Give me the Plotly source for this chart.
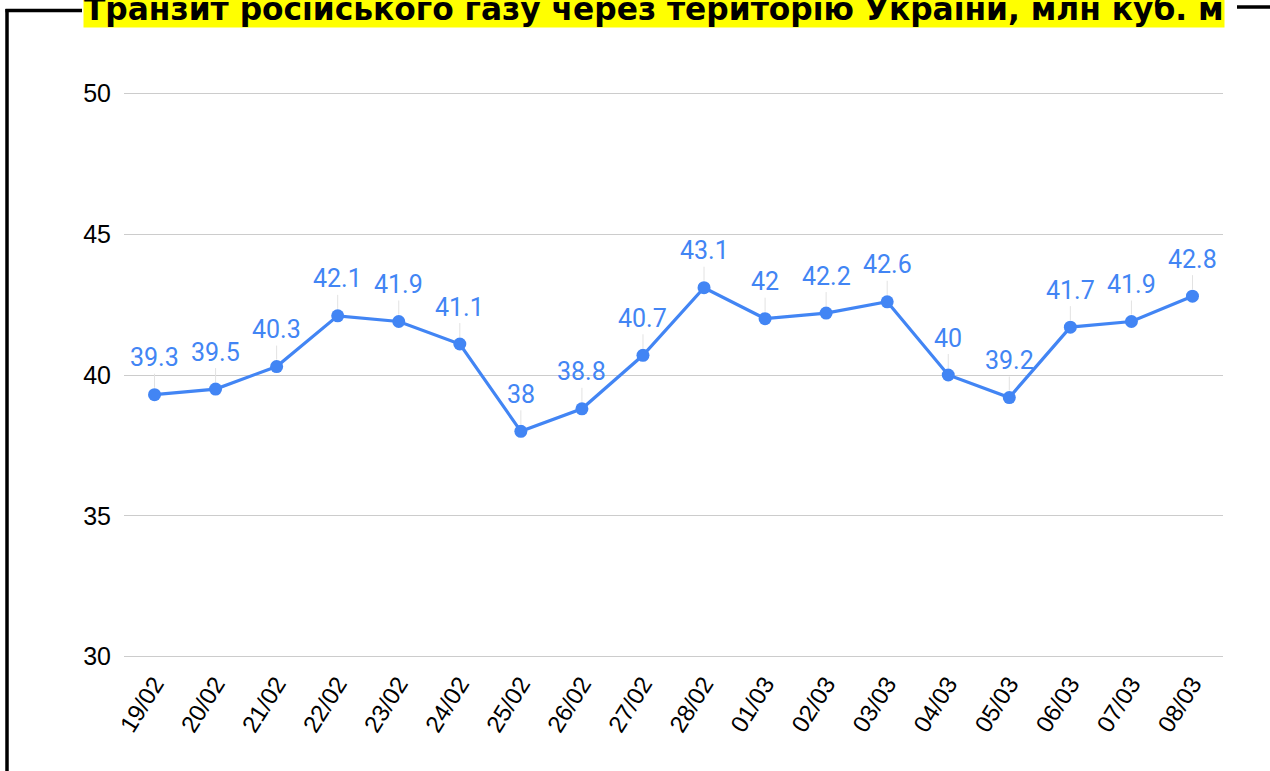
import plotly.graph_objects as go

dates = ["19/02", "20/02", "21/02", "22/02", "23/02", "24/02", "25/02", "26/02", "27/02",
         "28/02", "01/03", "02/03", "03/03", "04/03", "05/03", "06/03", "07/03", "08/03"]
values = [39.3, 39.5, 40.3, 42.1, 41.9, 41.1, 38, 38.8, 40.7,
          43.1, 42, 42.2, 42.6, 40, 39.2, 41.7, 41.9, 42.8]
y_ticks = [30, 35, 40, 45, 50]
title_text = "Транзит російського газу через територію України, млн куб. м"

W, H = 1270, 771
Y_LO, Y_HI = 29.95, 50.05
ML, MR, MT, MB = 124, 47, 92, 113
PW, PH = W - ML - MR, H - MT - MB


def px2x(px):
    return (px - ML) / PW


def py2y(py):
    return (H - MB - py) / PH


BLUE = "#4285F4"

fig = go.Figure()
fig.add_trace(go.Scatter(
    x=dates, y=values, mode="lines+markers",
    line=dict(color=BLUE, width=3.2),
    marker=dict(color=BLUE, size=13),
    hoverinfo="skip", showlegend=False,
))

annotations = []
for d, v in zip(dates, values):
    annotations.append(dict(
        x=d, y=v, xref="x", yref="y", text=f"{v:g}",
        showarrow=True, arrowhead=0, arrowwidth=1, arrowcolor="#e2e2e2",
        ax=0, ay=-37, standoff=7,
        font=dict(family="Roboto", size=25, color=BLUE),
    ))

annotations.append(dict(
    x=px2x(654), y=py2y(28), xref="paper", yref="paper",
    xanchor="center", yanchor="bottom", showarrow=False,
    text="<b>" + title_text + "</b>", bgcolor="#FFFF00", borderpad=0,
    font=dict(family="DejaVu Sans", size=31.3, color="black"),
))

shapes = [
    dict(type="line", xref="paper", yref="paper", x0=px2x(7), x1=px2x(7),
         y0=py2y(9), y1=py2y(800), line=dict(color="black", width=3.5)),
    dict(type="line", xref="paper", yref="paper", x0=px2x(5.5), x1=px2x(82),
         y0=py2y(10.5), y1=py2y(10.5), line=dict(color="black", width=3.5)),
    dict(type="line", xref="paper", yref="paper", x0=px2x(1237), x1=px2x(1280),
         y0=py2y(7), y1=py2y(7), line=dict(color="black", width=3.5)),
]

fig.update_layout(
    width=W, height=H,
    margin=dict(l=ML, r=MR, t=MT, b=MB, pad=0),
    plot_bgcolor="white", paper_bgcolor="white",
    annotations=annotations, shapes=shapes,
    xaxis=dict(
        type="category", range=[-0.5, len(dates) - 0.5],
        showgrid=False, zeroline=False, showline=False, ticks="",
        tickangle=-58, ticklabelstandoff=6,
        tickfont=dict(family="Liberation Sans", size=24, color="black"),
    ),
    yaxis=dict(
        range=[Y_LO, Y_HI], tickvals=y_ticks, showgrid=True, gridcolor="#cccccc", gridwidth=1,
        zeroline=False, showline=False, ticks="", ticklabelstandoff=12,
        tickfont=dict(family="Liberation Sans", size=25, color="black"),
    ),
)

fig.write_html("out.html", config={"displayModeBar": False},
               post_script="document.body.style.margin='0';")
